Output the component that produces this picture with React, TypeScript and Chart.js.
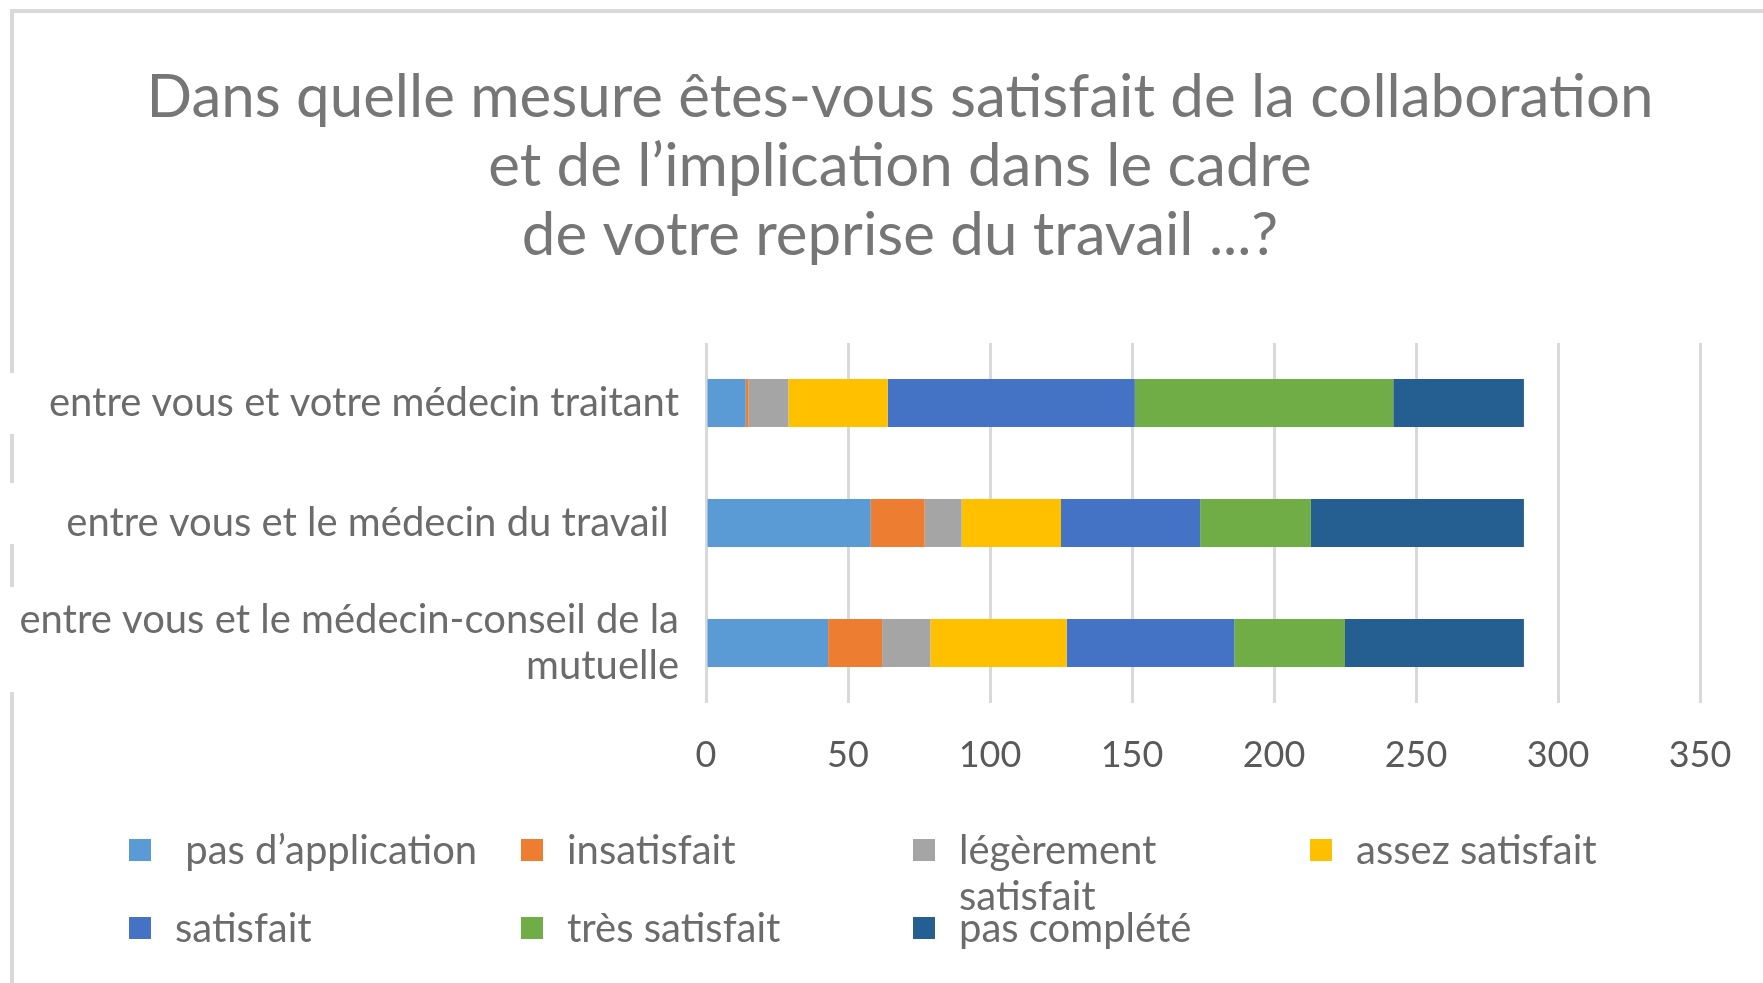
import React, { useEffect, useRef } from "react";
import { Chart, registerables } from "chart.js";

Chart.register(...registerables);

const FONT = "Lato, 'Open Sans', sans-serif";

const titleLines = [
  "Dans quelle mesure êtes-vous satisfait de la collaboration",
  "et de l’implication dans le cadre",
  "de votre reprise du travail ...?",
];

const categories: (string | string[])[] = [
  "entre vous et votre médecin traitant",
  "entre vous et le médecin du travail ",
  ["entre vous et le médecin-conseil de la", "mutuelle"],
];

const seriesNames = [
  " pas d’application",
  "insatisfait",
  "légèrement satisfait",
  "assez satisfait",
  "satisfait",
  "très satisfait",
  "pas complété",
];

const seriesColors = ["#5B9BD5", "#ED7D31", "#A5A5A5", "#FFC000", "#4472C4", "#70AD47", "#255E91"];

const pasApplication = [14, 58, 43];
const insatisfait = [1, 19, 19];
const legerementSatisfait = [14, 13, 17];
const assezSatisfait = [35, 35, 48];
const satisfait = [87, 49, 59];
const tresSatisfait = [91, 39, 39];
const pasComplete = [46, 75, 63];

const seriesValues = [
  pasApplication,
  insatisfait,
  legerementSatisfait,
  assezSatisfait,
  satisfait,
  tresSatisfait,
  pasComplete,
];

const xMin = 0;
const xMax = 350;
const xStep = 50;

// layout constants (style only)
const W = 1763;
const H = 983;
const PLOT_LEFT = 706;
const PLOT_RIGHT = 1700;
const PLOT_TOP = 343;
const PLOT_BOTTOM = 703;
const X_AXIS_H = 80;
const LABEL_SIZE = 40;
const TITLE_CX = 900;
const TITLE_TOP = 63;
const TITLE_LH = 69;
const LEGEND_COLS = [129, 521, 913, 1310];
const LEGEND_ROW_CENTERS = [850, 928];
const SQ = 22;
const BORDER = "#d9d9d9";
const LEFT_SEGMENTS = [
  [9, 373],
  [434, 483],
  [544, 587],
  [692, 983],
];

const titlePlugin = {
  id: "centredTitle",
  afterDraw(chart: any) {
    const ctx = chart.ctx;
    ctx.save();
    ctx.font = `normal 60px ${FONT}`;
    ctx.fillStyle = "#767676";
    ctx.textAlign = "center";
    ctx.textBaseline = "middle";
    titleLines.forEach((line, i) => {
      ctx.fillText(line, TITLE_CX, TITLE_TOP + TITLE_LH / 2 + i * TITLE_LH);
    });
    ctx.restore();
  },
};

export default function App() {
  const ref = useRef<HTMLCanvasElement | null>(null);

  useEffect(() => {
    document.body.style.margin = "0";
    const canvas = ref.current;
    if (!canvas) return;
    const chart = new Chart(canvas, {
      type: "bar",
      data: {
        labels: categories as any,
        datasets: seriesValues.map((vals, i) => ({
          label: seriesNames[i],
          data: vals,
          backgroundColor: seriesColors[i],
          borderWidth: 0,
          barPercentage: 0.5,
          categoryPercentage: 0.8,
        })),
      },
      options: {
        indexAxis: "y",
        responsive: false,
        animation: false,
        devicePixelRatio: 1,
        layout: {
          padding: { left: 0, right: W - PLOT_RIGHT, top: PLOT_TOP, bottom: H - PLOT_BOTTOM - X_AXIS_H },
        },
        plugins: {
          legend: { display: false },
          tooltip: { enabled: false },
          title: { display: false },
        },
        scales: {
          x: {
            stacked: true,
            min: xMin,
            max: xMax,
            ticks: {
              stepSize: xStep,
              color: "#595959",
              font: { family: FONT, size: 36, lineHeight: "48px" },
              padding: 28,
              maxRotation: 0,
            },
            grid: { color: BORDER, lineWidth: 3, drawTicks: false },
            border: { display: false },
            afterFit: (scale: any) => {
              scale.height = X_AXIS_H;
            },
          },
          y: {
            stacked: true,
            ticks: {
              color: "#6b6b6b",
              font: { family: FONT, size: LABEL_SIZE, lineHeight: "46px" },
              padding: 27,
            },
            grid: { display: false, drawTicks: false },
            border: { display: false },
            afterFit: (scale: any) => {
              scale.width = PLOT_LEFT;
            },
          },
        },
      },
      plugins: [titlePlugin],
    });
    return () => chart.destroy();
  }, []);

  return (
    <div
      style={{
        position: "relative",
        width: W,
        height: H,
        background: "#fff",
        overflow: "hidden",
        fontFamily: FONT,
      }}
    >
      <canvas ref={ref} width={W} height={H} style={{ position: "absolute", left: 0, top: 0 }} />
      <div style={{ position: "absolute", left: 10, top: 9, width: W - 10, height: 4, background: BORDER }} />
      {LEFT_SEGMENTS.map(([a, b], i) => (
        <div key={i} style={{ position: "absolute", left: 10, top: a, width: 4, height: b - a, background: BORDER }} />
      ))}
      {seriesNames.map((name, i) => {
        const col = i % 4;
        const row = Math.floor(i / 4);
        const cx = LEGEND_COLS[col];
        const cy = LEGEND_ROW_CENTERS[row];
        return (
          <React.Fragment key={name}>
            <div
              style={{
                position: "absolute",
                left: cx,
                top: cy - SQ / 2,
                width: SQ,
                height: SQ,
                background: seriesColors[i],
              }}
            />
            <div
              style={{
                position: "absolute",
                left: cx + SQ + 24,
                top: cy - 24,
                maxWidth: 320,
                fontSize: LABEL_SIZE,
                lineHeight: "46px",
                color: "#6b6b6b",
                whiteSpace: "pre-wrap",
              }}
            >
              {name}
            </div>
          </React.Fragment>
        );
      })}
    </div>
  );
}
